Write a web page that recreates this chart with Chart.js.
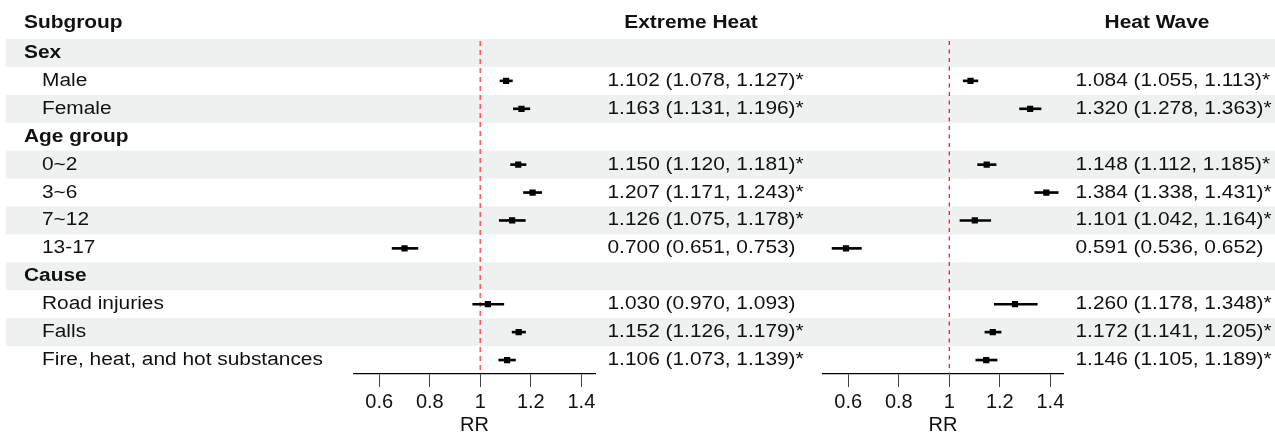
<!DOCTYPE html>
<html><head><meta charset="utf-8">
<script src="https://cdn.jsdelivr.net/npm/chart.js@4.4.1/dist/chart.umd.min.js"></script>
<style>
html,body{margin:0;padding:0;background:#fff;}
#wrap{position:relative;width:1275px;height:435px;overflow:hidden;background:#fff;}
canvas{position:absolute;left:0;top:0;}
</style></head><body>
<div id="wrap"><canvas id="c1" width="1275" height="435"></canvas><canvas id="c2" width="1275" height="435"></canvas></div>
<script>
// ---- data ----
const subgroups = ['Sex','Male','Female','Age group','0~2','3~6','7~12','13-17','Cause','Road injuries','Falls','Fire, heat, and hot substances'];
const groupHeaders = ['Sex','Age group','Cause'];
const heatEst  = [null,1.102,1.163,null,1.150,1.207,1.126,0.700,null,1.030,1.152,1.106];
const heatLow  = [null,1.078,1.131,null,1.120,1.171,1.075,0.651,null,0.970,1.126,1.073];
const heatHigh = [null,1.127,1.196,null,1.181,1.243,1.178,0.753,null,1.093,1.179,1.139];
const waveEst  = [null,1.084,1.320,null,1.148,1.384,1.101,0.591,null,1.260,1.172,1.146];
const waveLow  = [null,1.055,1.278,null,1.112,1.338,1.042,0.536,null,1.178,1.141,1.105];
const waveHigh = [null,1.113,1.363,null,1.185,1.431,1.164,0.652,null,1.348,1.205,1.189];
const tickValues = [0.6,0.8,1,1.2,1.4];
const tickLabels = ['0.6','0.8','1','1.2','1.4'];
const panelTitles = ['Extreme Heat','Heat Wave'];
const columnTitle = 'Subgroup';
const axisTitle = 'RR';
const refValue = 1;

// ---- helpers ----
const FONT = '"Liberation Sans", Arial, Helvetica, sans-serif';
const TXT = '#111';
const BAND = '#eef1f0';
function drawText(ctx, text, x, y, bold, align) {
  ctx.save();
  ctx.font = (bold ? 'bold ' : '') + '18px ' + FONT;
  ctx.fillStyle = TXT;
  ctx.textBaseline = 'middle';
  ctx.textAlign = align || 'left';
  ctx.translate(x, y);
  ctx.scale(1.16, 1);
  ctx.fillText(text, 0, 0);
  ctx.restore();
}
function fmt(v){ return v.toFixed(3); }
function estLabel(e, l, h){ return fmt(e) + ' (' + fmt(l) + ', ' + fmt(h) + ')' + (l > 1 ? '*' : ''); }

const tablePlugin = {
  id: 'table',
  beforeDraw(chart) {
    const ctx = chart.ctx, y = chart.scales.y;
    const half = Math.abs(y.getPixelForValue(1) - y.getPixelForValue(0)) / 2;
    ctx.save();
    ctx.fillStyle = BAND;
    subgroups.forEach((s, i) => {
      if (i % 2 === 0) {
        const c = y.getPixelForValue(i);
        ctx.fillRect(6, c - half, chart.width - 6, half * 2);
      }
    });
    ctx.restore();
  },
  afterDraw(chart) {
    const ctx = chart.ctx, y = chart.scales.y;
    drawText(ctx, columnTitle, 24, 23, true, 'left');
    drawText(ctx, panelTitles[0], 691, 23, true, 'center');
    drawText(ctx, panelTitles[1], 1157, 23, true, 'center');
    subgroups.forEach((s, i) => {
      const isHead = groupHeaders.includes(s);
      drawText(ctx, s, isHead ? 24 : 42, y.getPixelForValue(i), isHead, 'left');
    });
  }
};

function makePanel(id, est, lo, hi, padL, padR, xMax, textX, ref) {
  const refPlugin = {
    id: 'ref' + id,
    beforeDatasetsDraw(chart) {
      const ctx = chart.ctx, x = chart.scales.x.getPixelForValue(refValue);
      ctx.save();
      ctx.strokeStyle = ref.color;
      ctx.lineWidth = ref.width;
      ctx.setLineDash(ref.dash);
      ctx.beginPath();
      ctx.moveTo(x, chart.chartArea.top + 2);
      ctx.lineTo(x, chart.chartArea.bottom);
      ctx.stroke();
      ctx.restore();
    },
    afterDraw(chart) {
      const y = chart.scales.y;
      est.forEach((e, i) => {
        if (e !== null) drawText(chart.ctx, estLabel(e, lo[i], hi[i]), textX, y.getPixelForValue(i), false, 'left');
      });
    }
  };
  const plugins = [refPlugin];
  if (id === 'c1') plugins.unshift(tablePlugin);
  return new Chart(document.getElementById(id), {
    type: 'bar',
    data: {
      labels: subgroups,
      datasets: [
        { type: 'bar', data: lo.map((l, i) => l === null ? null : [l, hi[i]]),
          backgroundColor: '#000', borderWidth: 0, barThickness: 2, order: 2 },
        { type: 'line', data: est, showLine: false, pointStyle: 'rect',
          pointRadius: 4.4, pointBackgroundColor: '#000', pointBorderWidth: 0, order: 1 }
      ]
    },
    options: {
      indexAxis: 'y',
      responsive: false,
      animation: false,
      devicePixelRatio: 1,
      layout: { padding: { left: padL, right: padR, top: 39, bottom: 0 } },
      plugins: { legend: { display: false }, tooltip: { enabled: false } },
      scales: {
        y: { type: 'category', display: false, offset: true },
        x: {
          type: 'linear', min: 0.5, max: xMax, position: 'bottom',
          afterBuildTicks: s => { s.ticks = tickValues.map(v => ({ value: v })); },
          afterFit: s => { s.height = 61; },
          grid: { display: true, drawOnChartArea: false, drawTicks: true, tickLength: 13, tickColor: '#444', tickWidth: 1 },
          border: { display: true, color: '#000', width: 1.3 },
          ticks: { autoSkip: false, maxRotation: 0, padding: 3, color: TXT,
                   font: { family: FONT, size: 20 },
                   callback: (v, i) => tickLabels[i] },
          title: { display: true, text: axisTitle, color: TXT, font: { family: FONT, size: 20, lineHeight: 1 },
                   padding: { top: 0, bottom: 0 } }
        }
      }
    },
    plugins
  });
}

makePanel('c1', heatEst, heatLow, heatHigh, 354, 680, 1.454, 607.5,
  { color: 'rgba(255,70,70,0.85)', width: 1.7, dash: [5, 4] });
makePanel('c2', waveEst, waveLow, waveHigh, 823, 212, 1.45, 1075.5,
  { color: '#ee1111', width: 1.2, dash: [4, 4.5] });
</script>
</body></html>
